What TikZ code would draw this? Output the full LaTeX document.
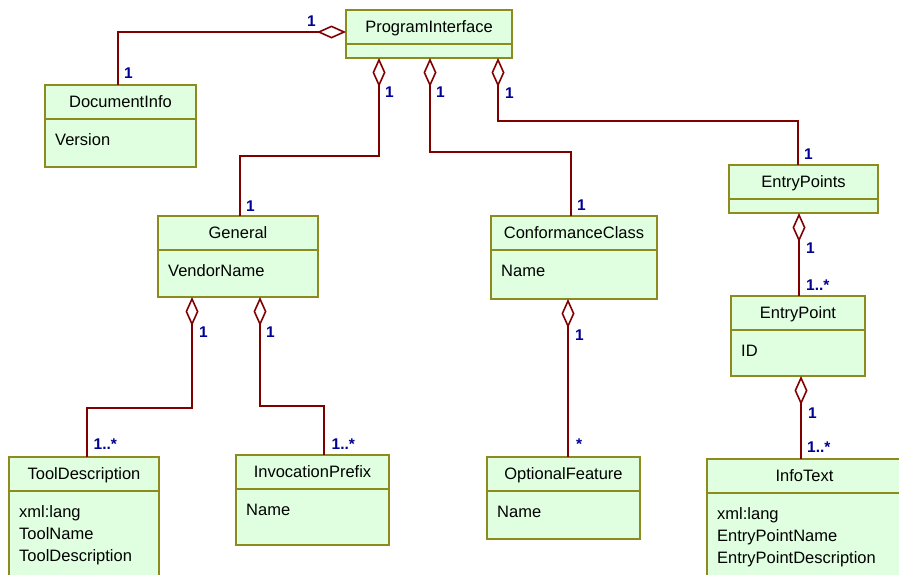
\documentclass[tikz,border=0pt]{standalone}
\usepackage{fontspec}
\setmainfont{Liberation Sans}
\usetikzlibrary{arrows.meta}

\definecolor{classfill}{RGB}{224,255,224}
\definecolor{classedge}{RGB}{140,140,30}
\definecolor{linkred}{RGB}{128,0,0}
\definecolor{multblue}{RGB}{0,0,150}

% name, left, top, width, height, title, attribute list
\newcommand{\umlclass}[7]{%
  \node[classbox, minimum width=#4, minimum height=#5, anchor=north west] (#1) at (#2,#3) {};
  \draw[classline] ([yshift=-34pt]#1.north west) -- ([yshift=-34pt]#1.north east);
  \node[classtitle] (#1-title) at ([yshift=-22.5pt]#1.north) {#6};
  \foreach \attr [count=\i] in {#7}
    \node[classattr] (#1-a\i) at ([xshift=10pt, yshift={-(60.5pt+22pt*(\i-1))}]#1.north west) {\attr};
}

\begin{document}
\begin{tikzpicture}[x=1pt,y=-1pt]
\tikzset{
  classbox/.style   = {rectangle, draw=classedge, fill=classfill, line width=1.6pt, inner sep=0, outer sep=0},
  classline/.style  = {draw=classedge, line width=1.6pt},
  classtitle/.style = {font=\fontsize{16.5}{20}\selectfont, inner sep=0, anchor=base},
  classattr/.style  = {font=\fontsize{16.5}{20}\selectfont, inner sep=0, anchor=base west},
  agg/.style        = {draw=linkred, line width=1.6pt, arrows={Diamond[open,length=29pt,width=13pt]-}},
  mult/.style       = {text=multblue, font=\bfseries\fontsize{15.5}{15.5}\selectfont, inner sep=0, anchor=base west}
}
\clip (0,0) rectangle (899,574);

    \umlclass{pi}{346}{10}{166}{48}{ProgramInterface}{}
    \umlclass{docinfo}{45}{85}{151}{82}{DocumentInfo}{Version}
    \umlclass{general}{158}{216}{160}{81}{General}{VendorName}
    \umlclass{confclass}{491}{216}{166}{83}{ConformanceClass}{Name}
    \umlclass{entrypoints}{729}{165}{149}{48}{EntryPoints}{}
    \umlclass{entrypoint}{731}{296}{134}{80}{EntryPoint}{ID}
    \umlclass{tooldesc}{9}{457}{150}{130}{ToolDescription}{xml:lang,ToolName,ToolDescription}
    \umlclass{invprefix}{236}{455}{153}{90}{InvocationPrefix}{Name}
    \umlclass{optfeature}{487}{457}{153}{82}{OptionalFeature}{Name}
    \umlclass{infotext}{707}{459}{195}{130}{InfoText}{xml:lang,EntryPointName,EntryPointDescription}
    %%%%%%%%%%%%%%%%%%%%%%%%%%%%%%%%%%%
    \draw[agg] ([yshift=2pt]pi.west) -| ([xshift=73pt]docinfo.north west);
    \draw[agg] ([xshift=33pt]pi.south west) -- ++(0,98) -| ([xshift=82pt]general.north west);
    \draw[agg] ([xshift=84pt]pi.south west) -- ++(0,94) -| ([xshift=80pt]confclass.north west);
    \draw[agg] ([xshift=152pt]pi.south west) -- ++(0,63) -| ([xshift=69pt]entrypoints.north west);
    \draw[agg] ([xshift=70pt]entrypoints.south west) coordinate (ep1) -- (ep1 |- entrypoint.north);
    \draw[agg] ([xshift=70pt]entrypoint.south west) coordinate (ep2) -- (ep2 |- infotext.north);
    \draw[agg] ([xshift=34pt]general.south west) -- ++(0,111) -| ([xshift=78pt]tooldesc.north west);
    \draw[agg] ([xshift=102pt]general.south west) -- ++(0,109) -| ([xshift=88pt]invprefix.north west);
    \draw[agg] ([xshift=77pt]confclass.south west) coordinate (cc1) -- (cc1 |- optfeature.north);
    %%%%%%%%%%%%%%%%%%%%%%%%%%%%%%%%%%%
    \node[mult] (m-pi-doc)   at (307,26) {1};
    \node[mult] (m-doc)      at (124,78) {1};
    \node[mult] (m-pi-gen)   at (385,97) {1};
    \node[mult] (m-gen)      at (246,211) {1};
    \node[mult] (m-pi-cc)    at (436,97) {1};
    \node[mult] (m-cc)       at (577,210) {1};
    \node[mult] (m-pi-eps)   at (505,98) {1};
    \node[mult] (m-eps)      at (804,159) {1};
    \node[mult] (m-eps-ep)   at (806,253) {1};
    \node[mult] (m-ep)       at (806,290) {1..*};
    \node[mult] (m-ep-info)  at (808,418) {1};
    \node[mult] (m-info)     at (807,452) {1..*};
    \node[mult] (m-gen-tool) at (199,337) {1};
    \node[mult] (m-tool)     at (93.5,449) {1..*};
    \node[mult] (m-gen-inv)  at (266,337) {1};
    \node[mult] (m-inv)      at (331.5,449) {1..*};
    \node[mult] (m-cc-opt)   at (575,340) {1};
    \node[mult] (m-opt)      at (576,449) {*};
\end{tikzpicture}
\end{document}
